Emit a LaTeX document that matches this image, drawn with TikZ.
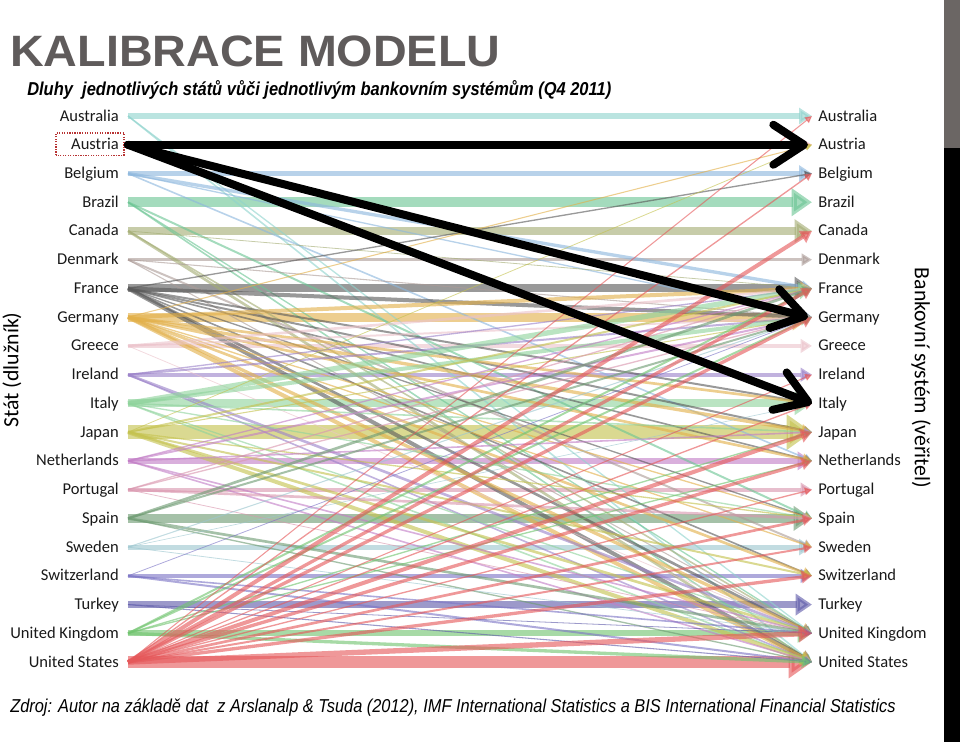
\documentclass[tikz,border=0pt]{standalone}
\usepackage{fontspec}
\setmainfont{Carlito}
\newfontfamily\arialfont{Liberation Sans}
\usetikzlibrary{arrows.meta}
\definecolor{colAU}{HTML}{8FD3CD}
\definecolor{colAT}{HTML}{E6A6B4}
\definecolor{colBE}{HTML}{8DB7DD}
\definecolor{colBR}{HTML}{6CC594}
\definecolor{colCA}{HTML}{A4AD74}
\definecolor{colDK}{HTML}{AC9C98}
\definecolor{colFR}{HTML}{5A5A5A}
\definecolor{colDE}{HTML}{E2B04A}
\definecolor{colGR}{HTML}{EBC3CB}
\definecolor{colIE}{HTML}{9B82C9}
\definecolor{colIT}{HTML}{8FD39C}
\definecolor{colJP}{HTML}{C4C24E}
\definecolor{colNL}{HTML}{C27EC6}
\definecolor{colPT}{HTML}{D996AE}
\definecolor{colES}{HTML}{6E9B72}
\definecolor{colSE}{HTML}{9CC6CF}
\definecolor{colCH}{HTML}{7C75C5}
\definecolor{colTR}{HTML}{5F5BAA}
\definecolor{colGB}{HTML}{71C46F}
\definecolor{colUS}{HTML}{E5585A}
\definecolor{titlegray}{HTML}{5F5B5B}
\definecolor{bargray}{HTML}{6B6664}
\tikzset{
  debtor/.style={anchor=base east, inner sep=0pt, text=black!90, font=\fontsize{12.4}{14}\selectfont},
  creditor/.style={anchor=base west, inner sep=0pt, text=black!90, font=\fontsize{12.4}{14}\selectfont},
  axislabel/.style={inner sep=0pt, text=black, font=\fontsize{16.3}{18}\selectfont},
  flow/.style={draw=col#1, opacity=.62, line cap=butt,
    -{Triangle[length=4pt 1.5, width=3.5pt 2.2]}},
  bigarrow/.style={draw=black, line width=6pt, line cap=round,
    -{Straight Barb[length=23pt, width=30pt, round]}},
  hilite/.style={draw=red!65!black!80, densely dotted, line width=.9pt}
}

\begin{document}
\begin{tikzpicture}[x=0.75pt, y=-0.75pt]
  \useasboundingbox (0,0) rectangle (960,742);
  % side bar
  \fill[bargray] (944,0) rectangle (960,148);
  \fill[black] (944,148) rectangle (960,742);

  % title
  \node[anchor=base west, inner sep=0pt, text=titlegray] (title) at (10,66)
    {\resizebox{367.5pt}{23pt}{\arialfont\bfseries KALIBRACE MODELU}};
  \node[anchor=base west, inner sep=0pt] (subtitle) at (27,95)
    {\resizebox{438pt}{\height}{\arialfont\bfseries\itshape\fontsize{14}{16}\selectfont
      Dluhy~ jednotliv\'ych st\'at\r{u} v\r{u}\v{c}i jednotliv\'ym bankovn\'im syst\'em\r{u}m (Q4 2011)}};

  % countries: debtor on the left, bank system on the right
  \foreach \k/\n [count=\i from 0] in {AU/Australia, AT/Austria, BE/Belgium, BR/Brazil,
      CA/Canada, DK/Denmark, FR/France, DE/Germany, GR/Greece, IE/Ireland, IT/Italy,
      JP/Japan, NL/Netherlands, PT/Portugal, ES/Spain, SE/Sweden, CH/Switzerland,
      TR/Turkey, GB/United Kingdom, US/United States}
  {
    \coordinate (s\k) at (128,{116+\i*28.74});
    \coordinate (t\k) at (812,{116+\i*28.74});
    \node[debtor] (d\k) at (119,{121+\i*28.74}) {\n};
    \node[creditor] (b\k) at (818,{121+\i*28.74}) {\n};
  }

  % domestic flows
  \foreach \k/\w in {AU/3.8, AT/2, BE/3.8, BR/7.5, CA/6, DK/2.5, FR/6, DE/7, GR/3,
      IE/3, IT/6, JP/10, NL/4.5, PT/3, ES/6.5, SE/3.8, CH/3, TR/5.5, GB/4.5, US/9}
    \draw[flow=\k, line width=\w pt] (s\k) -- (t\k);

  % cross-border flows
  \foreach \a/\b/\w in {AU/GB/1, AU/US/1.2,
      BE/FR/2.5, BE/NL/1.2, BE/DE/1,
      BR/ES/1.5, BR/US/1.2, BR/GB/1,
      CA/US/2, CA/GB/1.2, CA/FR/.6,
      DK/SE/1.5, DK/DE/.8, DK/GB/.8,
      FR/DE/3, FR/IT/1.5, FR/BE/1, FR/NL/1.2, FR/GB/2, FR/US/3, FR/JP/1.5, FR/CH/1.2, FR/ES/1,
      DE/FR/3, DE/IT/2, DE/NL/2, DE/GB/2.5, DE/US/3, DE/JP/2.5, DE/CH/2, DE/AT/.8, DE/ES/1, DE/SE/1,
      GR/FR/2, GR/DE/1.5, GR/GB/.6,
      IE/GB/2, IE/DE/1.5, IE/FR/1, IE/US/1.2,
      IT/FR/4, IT/DE/3, IT/JP/1.2, IT/US/1.2, IT/ES/1, IT/GB/1,
      JP/US/3, JP/GB/2, JP/AT/.6, JP/FR/1.5, JP/DE/.8, JP/CH/1.5, JP/ES/1,
      NL/DE/1.5, NL/JP/1.2, NL/US/1.2, NL/GB/1.2, NL/FR/1,
      PT/ES/2, PT/DE/1, PT/FR/1, PT/GB/.6,
      ES/FR/2, ES/DE/1.5, ES/GB/2, ES/US/1,
      SE/DE/.8, SE/IT/.5, SE/GB/.6,
      CH/US/1.5, CH/GB/1.2, CH/DE/.6,
      TR/US/.8, TR/GB/.6,
      GB/FR/1.5, GB/DE/1.5, GB/US/2.5, GB/NL/1, GB/JP/1,
      US/CA/3, US/FR/2.5, US/DE/2.5, US/JP/3, US/NL/2.5, US/ES/2, US/CH/2.5, US/GB/4,
      US/IT/1, US/SE/1.5, US/AU/.8, US/BE/1, US/PT/1, US/IE/.8}
    \draw[flow=\a, line width=\w pt] (s\a) -- (t\b);

  % Austria highlighted
  \draw[hilite] ([xshift=-11.25pt,yshift=-3.75pt]dAT.south west) rectangle ([xshift=3.75pt,yshift=3.75pt]dAT.north east);
  \draw[bigarrow] (sAT) -- ([xshift=-3pt]tAT);
  \draw[bigarrow] (sAT) -- ([xshift=-3pt]tDE);
  \draw[bigarrow] (sAT) -- (tIT);

  % axis labels
  \node[axislabel, rotate=90] (ylabel) at (12,370) {St\'at (dlu\v{z}n\'ik)};
  \node[axislabel, rotate=-90] (zlabel) at (921,378) {Bankovn\'i syst\'em (v\v{e}\v{r}itel)};

  % source
  \node[anchor=base west, inner sep=0pt] (source) at (10,712)
    {\resizebox{664pt}{\height}{\arialfont\itshape\fontsize{14}{16}\selectfont
      Zdroj: Autor na z\'aklad\v{e} dat~ z Arslanalp \& Tsuda (2012), IMF International Statistics a BIS International Financial Statistics}};
\end{tikzpicture}
\end{document}
